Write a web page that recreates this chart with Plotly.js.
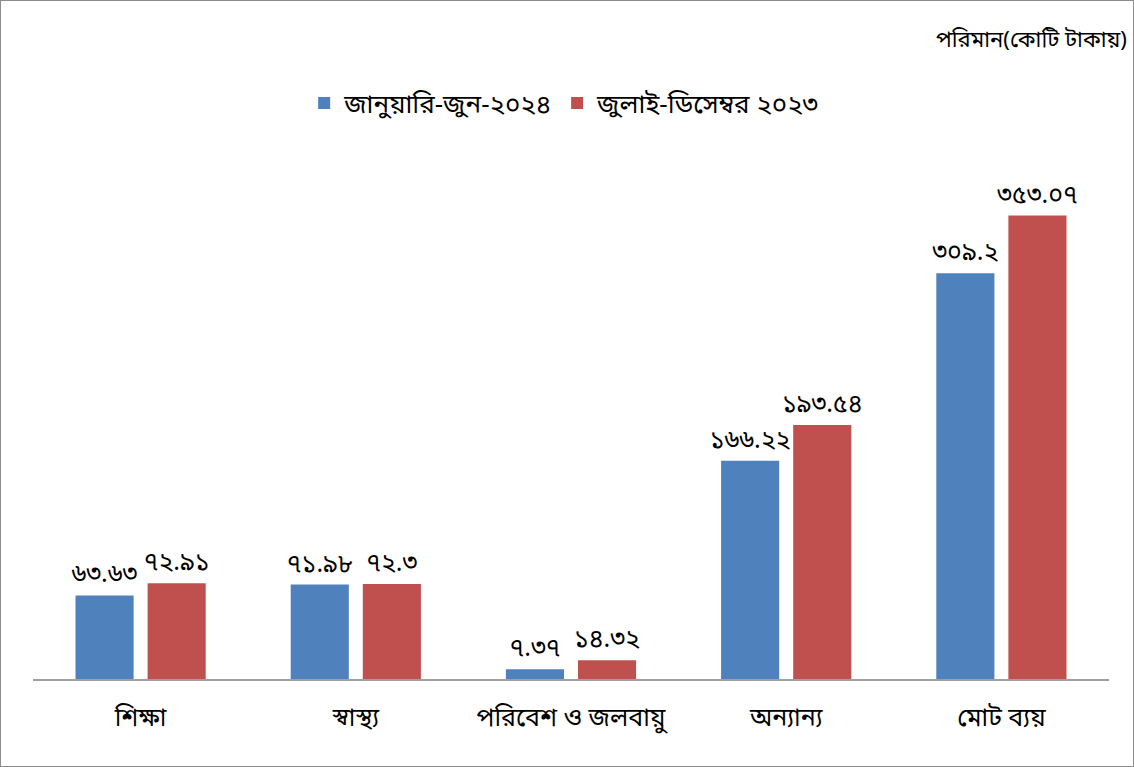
<!DOCTYPE html>
<html><head><meta charset="utf-8">
<script src="https://cdn.plot.ly/plotly-3.0.1.min.js"></script>
<style>
html,body{margin:0;padding:0;background:#fff;}
#wrap{width:1134px;height:767px;box-sizing:border-box;border:1px solid #8c8c8c;position:relative;}
#chart{width:1132px;height:765px;}
</style></head>
<body><div id="wrap"><div id="chart"></div></div>
<script>
const categories = ["শিক্ষা", "স্বাস্থ্য", "পরিবেশ ও জলবায়ু", "অন্যান্য", "মোট ব্যয়"];
const seriesNames = ["জানুয়ারি-জুন-২০২৪", "জুলাই-ডিসেম্বর ২০২৩"];
const janJun2024 = [63.63, 71.98, 7.37, 166.22, 309.2];
const julDec2023 = [72.91, 72.3, 14.32, 193.54, 353.07];
const unitLabel = "পরিমান(কোটি টাকায়)";

const bnDigits = "০১২৩৪৫৬৭৮৯";
function toBn(v){ return String(v).replace(/[0-9]/g, d => bnDigits[+d]); }

const FONT = "'Noto Sans Bengali','Noto Sans','Noto Sans CJK SC',sans-serif";

const traces = [
  {type:'bar', name: seriesNames[0], x: categories, y: janJun2024,
   text: janJun2024.map(toBn), textposition:'outside', cliponaxis:false, constraintext:'none',
   textfont:{size:25, color:'#000', family:FONT},
   marker:{color:'#4f81bd'}},
  {type:'bar', name: seriesNames[1], x: categories, y: julDec2023,
   text: julDec2023.map(toBn), textposition:'outside', cliponaxis:false, constraintext:'none',
   textfont:{size:25, color:'#000', family:FONT},
   marker:{color:'#c0504d'}}
];

const layout = {
  width:1132, height:765,
  margin:{l:32, r:24, t:153, b:87},
  paper_bgcolor:'#fff', plot_bgcolor:'#fff',
  font:{family:FONT, color:'#000'},
  barmode:'group', bargap:0.33, bargroupgap:0.194,
  showlegend:true,
  legend:{orientation:'h', x:0.252, xanchor:'left', y:1.097, yanchor:'middle',
          font:{size:26, family:FONT}, itemwidth:30, itemsizing:'constant'},
  xaxis:{showline:true, linecolor:'#a0a0a0', linewidth:1.5, ticks:'outside', ticklen:15,
         tickcolor:'rgba(0,0,0,0)', tickfont:{size:25, family:FONT, color:'#000'}, showgrid:false},
  yaxis:{range:[0,400], visible:false, showgrid:false, zeroline:false},
  annotations:[{text:unitLabel, xref:'paper', yref:'paper', x:1.0186, y:1.215,
     xanchor:'right', yanchor:'middle', showarrow:false, font:{size:22, family:FONT, color:'#000'}}]
};
Plotly.newPlot('chart', traces, layout, {displayModeBar:false, staticPlot:true});
</script></body></html>
